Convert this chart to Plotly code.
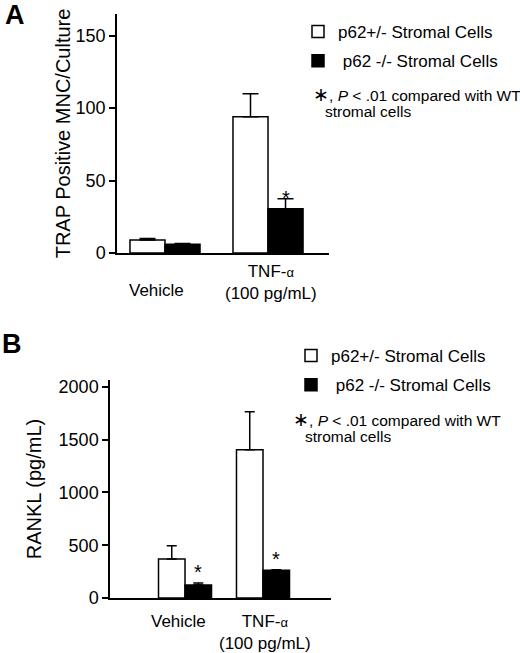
import plotly.graph_objects as go

W, H = 520, 653

groups = ["Vehicle", "TNF-α"]
group_labels = ["Vehicle", "TNF-<span style='font-size:13px'>α</span><br>(100 pg/mL)"]
series = ["p62+/- Stromal Cells", " p62 -/- Stromal Cells"]

# panel A: TRAP positive MNC / culture
trap_het = [9, 94]
trap_het_err = [1, 16]
trap_ko = [6, 30.5]
trap_ko_err = [0.5, 7]
trap_star = [False, True]
trap_ticks = [0, 50, 100, 150]

# panel B: RANKL (pg/mL)
rankl_het = [370, 1405]
rankl_het_err = [125, 360]
rankl_ko = [123, 262]
rankl_ko_err = [20, 6]
rankl_star = [True, True]
rankl_ticks = [0, 500, 1000, 1500, 2000]

FONT = "Liberation Sans, Arial, sans-serif"
BARGAP = 0.32


def px(x):
    return x / W


def py(y):
    return 1 - y / H


def err(vals, cap):
    return dict(type="data", array=vals, arrayminus=[0] * len(vals), symmetric=False,
                color="black", thickness=1.5, width=cap)


fig = go.Figure()

panels = [
    ("x", "y", "legend", trap_het, trap_het_err, trap_ko, trap_ko_err, 8),
    ("x2", "y2", "legend2", rankl_het, rankl_het_err, rankl_ko, rankl_ko_err, 5),
]
for xa, ya, lg, het, het_e, ko, ko_e, cap in panels:
    fig.add_trace(go.Bar(x=groups, y=het, error_y=err(het_e, cap), name=series[0],
                         marker=dict(color="white", line=dict(color="black", width=1.5)),
                         xaxis=xa, yaxis=ya, legend=lg, legendgroup=lg + "a"))
    fig.add_trace(go.Bar(x=groups, y=ko, error_y=err(ko_e, cap), name=series[1],
                         marker=dict(color="black", line=dict(color="black", width=1.5)),
                         xaxis=xa, yaxis=ya, legend=lg, legendgroup=lg + "b"))

ann = []
off = (1 - BARGAP) / 4
# significance stars over the knockout bars
for ref, ko, ko_e, stars, shift in [("", trap_ko, trap_ko_err, trap_star, 1),
                                    ("2", rankl_ko, rankl_ko_err, rankl_star, 11)]:
    for i, s in enumerate(stars):
        if s:
            ann.append(dict(x=i + off, y=ko[i] + ko_e[i], xref="x" + ref, yref="y" + ref,
                            text="*", showarrow=False, xanchor="center", yanchor="middle",
                            yshift=shift, font=dict(size=20)))

# category labels under the axes
for i, g in enumerate(group_labels):
    ann.append(dict(x=i, y=py(279 if i == 0 else 260), xref="x", yref="paper", text=g,
                    showarrow=False, xanchor="center", yanchor="top",
                    xshift=-9 if i == 0 else 3))
    ann.append(dict(x=i, y=py(610), xref="x2", yref="paper", text=g,
                    showarrow=False, xanchor="center", yanchor="top",
                    xshift=-7 if i == 0 else 2))

# panel letters and footnotes
ann += [
    dict(x=px(15), y=py(15), xref="paper", yref="paper", text="<b>A</b>", showarrow=False,
         xanchor="center", yanchor="middle", font=dict(size=27)),
    dict(x=px(12), y=py(344), xref="paper", yref="paper", text="<b>B</b>", showarrow=False,
         xanchor="center", yanchor="middle", font=dict(size=27)),
]
for x0, y0 in [(311, 95), (291, 419)]:
    ann.append(dict(x=px(x0), y=py(y0), xref="paper", yref="paper", xanchor="left",
                    yanchor="middle", font=dict(size=15.5),
                    text="<span style='font-size:19px'>∗</span>, <i>P</i> < .01 compared with WT",
                    showarrow=False))
    ann.append(dict(x=px(x0 + 12), y=py(y0 + 17), xref="paper", yref="paper", xanchor="left",
                    yanchor="middle", font=dict(size=15.5), text="stromal cells",
                    showarrow=False))

axis_common = dict(showline=True, linecolor="black", linewidth=1.5, showgrid=False,
                   zeroline=False, fixedrange=True, automargin=False)
yaxis_common = dict(axis_common, ticks="outside", ticklen=6, tickwidth=1.5, tickcolor="black",
                    tickfont=dict(size=18))

fig.update_layout(
    width=W, height=H, autosize=False,
    margin=dict(l=0, r=0, t=0, b=0, autoexpand=False),
    paper_bgcolor="white", plot_bgcolor="white",
    font=dict(family=FONT, size=17, color="black"),
    barmode="group", bargap=BARGAP, bargroupgap=0,
    xaxis=dict(axis_common, domain=[px(117), px(329)], range=[-0.466, 1.592],
               showticklabels=False, ticks="", anchor="y"),
    yaxis=dict(yaxis_common, domain=[py(253), py(14)], range=[0, 165], tickvals=trap_ticks,
               title=dict(text="TRAP Positive MNC/Culture", standoff=0), anchor="x"),
    xaxis2=dict(axis_common, domain=[px(110), px(331)], range=[-0.962, 1.872],
                showticklabels=False, ticks="", anchor="y2"),
    yaxis2=dict(yaxis_common, domain=[py(598), py(380)], range=[0, 2066], tickvals=rankl_ticks,
                title=dict(text="RANKL (pg/mL)", standoff=12), anchor="x2"),
    legend=dict(x=px(298), y=py(14), xanchor="left", yanchor="top", bgcolor="rgba(0,0,0,0)",
                font=dict(size=17), tracegroupgap=4),
    legend2=dict(x=px(291), y=py(338), xanchor="left", yanchor="top", bgcolor="rgba(0,0,0,0)",
                 font=dict(size=17), tracegroupgap=4),
    annotations=ann,
)

# drop the page's default body margin so the figure sits at the window's corner
fig.write_html("out.html", config={"displayModeBar": False},
               post_script="document.body.style.margin = '0px';")
